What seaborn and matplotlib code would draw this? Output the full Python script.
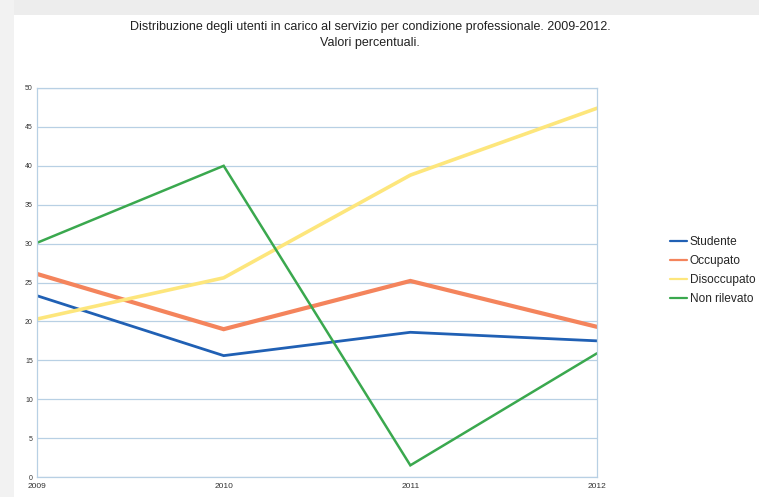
import matplotlib
matplotlib.use("Agg")
import matplotlib.pyplot as plt
from matplotlib.patches import Rectangle
import seaborn as sns
import pandas as pd

years = [2009, 2010, 2011, 2012]
studente = [23.3, 15.6, 18.6, 17.5]
occupato = [26.1, 19.0, 25.2, 19.3]
disoccupato = [20.3, 25.6, 38.8, 47.4]
non_rilevato = [30.1, 40.0, 1.5, 15.9]

series_names = ["Studente", "Occupato", "Disoccupato", "Non rilevato"]
series_values = [studente, occupato, disoccupato, non_rilevato]
palette = ["#2060b4", "#f4845c", "#fde67c", "#3aa84e"]
widths = [2.0, 3.0, 2.6, 1.8]

rows = []
for name, vals in zip(series_names, series_values):
    for y, v in zip(years, vals):
        rows.append({"Anno": y, "Valore": v, "Condizione": name})
df = pd.DataFrame(rows)

sns.set_theme(style="white")
plt.rcParams["font.family"] = ["Liberation Sans Narrow", "Liberation Sans", "DejaVu Sans"]

fig = plt.figure(figsize=(7.59, 4.97), dpi=100)
fig.patch.set_facecolor("white")
# soft page edge along the top and the left
fig.patches.append(Rectangle((0, 0.97), 1, 0.03, transform=fig.transFigure,
                             facecolor="#ededed", edgecolor="none", zorder=0))
fig.patches.append(Rectangle((0, 0), 0.018, 1, transform=fig.transFigure,
                             facecolor="#f2f2f2", edgecolor="none", zorder=0))

ax = fig.add_axes([37 / 759, 20 / 497, 560 / 759, 389 / 497])
sns.lineplot(data=df, x="Anno", y="Valore", hue="Condizione",
             hue_order=series_names, palette=palette, ax=ax, legend=False)
for line, w in zip(ax.get_lines(), widths):
    line.set_linewidth(w)
    line.set_solid_joinstyle("miter")

ax.set_xlim(2009, 2012)
ax.set_ylim(0, 50)
ax.set_xticks(years)
ax.set_xticklabels([str(y) for y in years], fontsize=6)
ax.set_yticks(range(0, 51, 5))
ax.set_yticklabels([str(v) for v in range(0, 51, 5)], fontsize=5)
ax.tick_params(axis="both", length=0, pad=3, colors="#333333")
ax.tick_params(axis="x", pad=4)
ax.set_xlabel("")
ax.set_ylabel("")
ax.grid(axis="y", color="#b8d0e4", linewidth=0.9)
ax.set_axisbelow(True)
for s in ax.spines.values():
    s.set_color("#b8d0e4")
    s.set_linewidth(0.9)

fig.text(370 / 759, 1 - 35 / 497,
         "Distribuzione degli utenti in carico al servizio per condizione professionale. 2009-2012.\nValori percentuali.",
         ha="center", va="center", fontsize=9, color="#222222", linespacing=1.55)

handles = [plt.Line2D([0], [0], color=c, lw=1.6) for c in palette]
fig.legend(handles, series_names, loc="upper left",
           bbox_to_anchor=(670 / 759, 1 - 236 / 497), frameon=False,
           fontsize=8.6, handlelength=1.4, handletextpad=0.25,
           labelspacing=0.6, borderpad=0, borderaxespad=0)

fig.savefig("out.png", dpi=100, facecolor=fig.get_facecolor())
